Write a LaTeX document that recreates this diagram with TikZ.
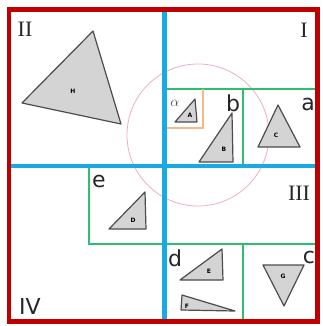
\documentclass[tikz,border=0pt]{standalone}
\usepackage{fontspec}
\setsansfont{DejaVu Sans}
\newfontfamily\numfont{Liberation Serif}
\usetikzlibrary{positioning}
\definecolor{framered}{RGB}{192,0,0}
\definecolor{splitblue}{RGB}{25,170,225}
\definecolor{cellgreen}{RGB}{45,190,110}
\definecolor{cellorange}{RGB}{245,185,135}
\definecolor{rangepink}{RGB}{235,175,190}
\tikzset{
    frame/.style={draw=framered, line width=4.5pt},
    split/.style={draw=splitblue, line width=4.5pt},
    cell/.style={draw=cellgreen, line width=2pt},
    subcell/.style={draw=cellorange, line width=1.8pt},
    queryring/.style={draw=rangepink, line width=0.8pt},
    tri/.style={fill=black!17, draw=black!70, line width=1.2pt, line join=round},
    quad/.style={inner sep=0pt, text=black!85, font=\numfont\fontsize{22}{22}\selectfont},
    leaf/.style={inner sep=0pt, text=black!85, font=\sffamily\fontsize{22}{22}\selectfont},
    tag/.style={inner sep=0pt, font=\sffamily\bfseries\fontsize{6}{6}\selectfont}
}

\begin{document}
\begin{tikzpicture}[x=1pt, y=-1pt]
    \useasboundingbox (0,0) rectangle (322,326);

    % Query range
    \draw[queryring] (198,135) circle (71);

    % Sub cells
    \draw[cell] (164.5,89) -- (317.5,89);
    \draw[cell] (242.5,89) -- (242.5,166);
    \draw[cell] (164.5,243.5) -- (317.5,243.5);
    \draw[cell] (243,243.5) -- (243,321.5);
    \draw[cell] (164.5,243.5) -- (89,243.5) -- (89,166);
    \draw[subcell] (164.5,128) -- (203,128) -- (203,89);

    % Quadrant split
    \draw[split] (164.5,9.5) -- (164.5,321.5);
    \draw[split] (9,166) -- (317.5,166);

    % Frame
    \draw[frame] (9,9.5) rectangle (317.5,321.5);

    % Triangles
    \filldraw[tri] (93,31) -- (22,103) -- (121,124) -- cycle;
    \filldraw[tri] (195,99) -- (175,122) -- (197,122) -- cycle;
    \filldraw[tri] (232,113) -- (199,162) -- (233,162) -- cycle;
    \filldraw[tri] (278,105) -- (258,147) -- (300,147) -- cycle;
    \filldraw[tri] (145,192) -- (109,229) -- (146,229) -- cycle;
    \filldraw[tri] (222,249) -- (180,280) -- (223,280) -- cycle;
    \filldraw[tri] (182,295) -- (181,310) -- (235,311) -- cycle;
    \filldraw[tri] (263,265) -- (304,265) -- (284,306) -- cycle;

    % Triangle names
    \node[tag] (H) at (73,91) {H};
    \node[tag] (A) at (190,115) {A};
    \node[tag] (B) at (224,149) {B};
    \node[tag] (C) at (276,135) {C};
    \node[tag] (D) at (133,220) {D};
    \node[tag] (E) at (209,271) {E};
    \node[tag] (F) at (187,306) {F};
    \node[tag] (G) at (283,276) {G};

    % Quadrant names
    \node[quad] (q1) at (304,30) {I};
    \node[quad] (q2) at (25,29.5) {II};
    \node[quad] (q3) at (299,193) {III};
    \node[leaf] (q4) at (30,306) {IV};

    % Cell names
    \node[leaf] (ca) at (308,104) {a};
    \node[leaf] (cb) at (233,103) {b};
    \node[leaf] (cc) at (309,257.5) {c};
    \node[leaf] (cd) at (175,258) {d};
    \node[leaf] (ce) at (99,181) {e};
    \node[inner sep=0pt, text=black!70, font=\fontsize{14}{14}\selectfont] (calpha) at (175,103) {$\alpha$};
\end{tikzpicture}
\end{document}
